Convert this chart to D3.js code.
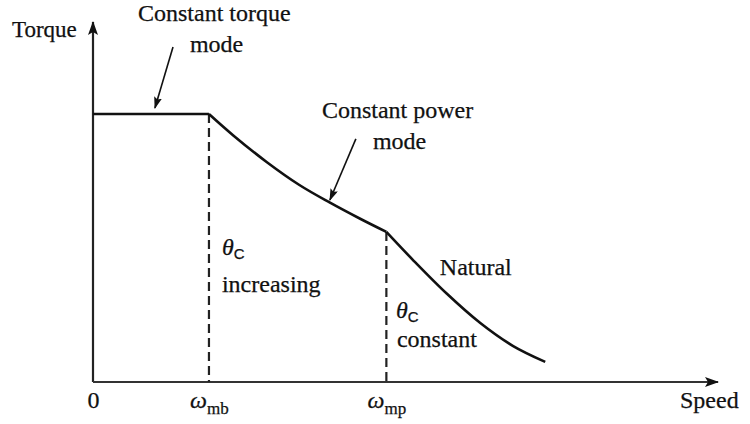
<!DOCTYPE html>
<html>
<head>
    <meta charset="utf-8">
    <title>Torque-Speed</title>
    <style>
        body { margin: 0; background: #fff; }
        text { font-family: "Liberation Serif", "DejaVu Serif", serif; fill: #111; stroke: #111; stroke-width: 0.25px; }
    </style>
</head>
<body>
    <script src="https://cdnjs.cloudflare.com/ajax/libs/d3/7.9.0/d3.min.js"></script>
    <script>
        const width = 750;
        const height = 424;

        // speed normalised so that omega_mb = 1, torque so that rated torque = 1
        const torqueSpeed = [0, 1.0];
        const torqueValues = [1.0, 1.0];
        const powerSpeed = [1.0, 1.21, 1.5, 1.78, 2.04, 2.30, 2.53];
        const powerValues = [1.0, 0.92, 0.82, 0.735, 0.67, 0.61, 0.56];
        const naturalSpeed = [2.53, 2.76, 3.05, 3.34, 3.62, 3.90];
        const naturalValues = [0.56, 0.455, 0.33, 0.22, 0.135, 0.075];

        const tickValues = [0, 1.0, 2.53];
        const tickNames = [["0", ""], ["\u03C9", "mb"], ["\u03C9", "mp"]];

        const svg = d3.select("body")
            .append("svg")
            .attr("width", width)
            .attr("height", height);

        const x = d3.scaleLinear().domain([0, 5.39]).range([93, 718]);
        const y = d3.scaleLinear().domain([0, 1.343]).range([382, 22]);

        const defs = svg.append("defs");
        defs.append("marker")
            .attr("id", "axisHead")
            .attr("viewBox", "0 0 14 10")
            .attr("refX", 13).attr("refY", 5)
            .attr("markerWidth", 14).attr("markerHeight", 10)
            .attr("markerUnits", "userSpaceOnUse")
            .attr("orient", "auto")
            .append("path").attr("d", "M0,0 L14,5 L0,10 L3,5 Z").attr("fill", "#111");
        defs.append("marker")
            .attr("id", "noteHead")
            .attr("viewBox", "0 0 12 8")
            .attr("refX", 11).attr("refY", 4)
            .attr("markerWidth", 12).attr("markerHeight", 8)
            .attr("markerUnits", "userSpaceOnUse")
            .attr("orient", "auto")
            .append("path").attr("d", "M0,0 L12,4 L0,8 L2,4 Z").attr("fill", "#111");

        // axes
        svg.append("line")
            .attr("x1", x(0)).attr("y1", y(0))
            .attr("x2", x(0)).attr("y2", y(1.343))
            .attr("stroke", "#222").attr("stroke-width", 2.2)
            .attr("marker-end", "url(#axisHead)");
        svg.append("line")
            .attr("x1", x(0)).attr("y1", y(0))
            .attr("x2", x(5.39)).attr("y2", y(0))
            .attr("stroke", "#333").attr("stroke-width", 2.2)
            .attr("marker-end", "url(#axisHead)");

        const xAxis = svg.append("g")
            .attr("transform", `translate(0,${y(0)})`)
            .call(d3.axisBottom(x).tickValues(tickValues).tickSize(0).tickFormat(""));
        xAxis.select(".domain").remove();
        xAxis.selectAll(".tick text")
            .attr("y", 26).attr("dy", null)
            .attr("font-family", null).attr("font-size", null)
            .each(function (d, i) {
                const t = d3.select(this).style("font-size", "24px");
                t.append("tspan").text(tickNames[i][0])
                    .style("font-style", i ? "italic" : "normal");
                if (tickNames[i][1]) {
                    t.append("tspan").text(tickNames[i][1])
                        .attr("dy", 6).style("font-size", "17px");
                }
            });

        svg.append("text").attr("x", 12).attr("y", 37)
            .style("font-size", "23px").text("Torque");
        svg.append("text").attr("x", 680).attr("y", 408)
            .style("font-size", "24px").text("Speed");

        // dashed guides
        const guides = [[1.0, 1.0], [2.53, 0.56]];
        svg.selectAll(".guide")
            .data(guides)
            .enter()
            .append("line")
            .attr("x1", d => x(d[0])).attr("x2", d => x(d[0]))
            .attr("y1", d => y(d[1])).attr("y2", y(0))
            .attr("stroke", "#222").attr("stroke-width", 2.2)
            .attr("stroke-dasharray", "9,5");

        // characteristic
        const line = d3.line()
            .x(d => x(d[0])).y(d => y(d[1]))
            .curve(d3.curveCatmullRom.alpha(0.5));
        const segments = [
            d3.zip(torqueSpeed, torqueValues),
            d3.zip(powerSpeed, powerValues),
            d3.zip(naturalSpeed, naturalValues)
        ];
        svg.selectAll(".seg")
            .data(segments)
            .enter()
            .append("path")
            .attr("d", line)
            .attr("fill", "none")
            .attr("stroke", "#111")
            .attr("stroke-width", 2.6)
            .attr("stroke-linejoin", "round");

        // annotation arrows
        const notes = [[0.69, 1.25, 0.534, 1.022], [2.267, 0.907, 2.043, 0.679]];
        svg.selectAll(".note")
            .data(notes)
            .enter()
            .append("line")
            .attr("x1", d => x(d[0])).attr("y1", d => y(d[1]))
            .attr("x2", d => x(d[2])).attr("y2", d => y(d[3]))
            .attr("stroke", "#111").attr("stroke-width", 1.6)
            .attr("marker-end", "url(#noteHead)");

        const labels = [
            ["Constant torque", 0.388, 1.347],
            ["mode", 0.836, 1.231],
            ["Constant power", 1.974, 0.985],
            ["mode", 2.414, 0.869],
            ["increasing", 1.112, 0.336],
            ["Natural", 2.991, 0.399],
            ["constant", 2.621, 0.131]
        ];
        svg.selectAll(".label")
            .data(labels)
            .enter()
            .append("text")
            .attr("x", d => x(d[1])).attr("y", d => y(d[2]))
            .style("font-size", "24px")
            .text(d => d[0]);

        const thetas = [[1.112, 0.472], [2.612, 0.240]];
        thetas.forEach(d => {
            const t = svg.append("text").attr("x", x(d[0])).attr("y", y(d[1]))
                .style("font-size", "24px");
            t.append("tspan").text("\u03B8").style("font-style", "italic");
            t.append("tspan").text("C").attr("dy", 4)
                .style("font-size", "15px").style("font-family", "'Liberation Sans', sans-serif");
        });
    </script>
</body>
</html>
